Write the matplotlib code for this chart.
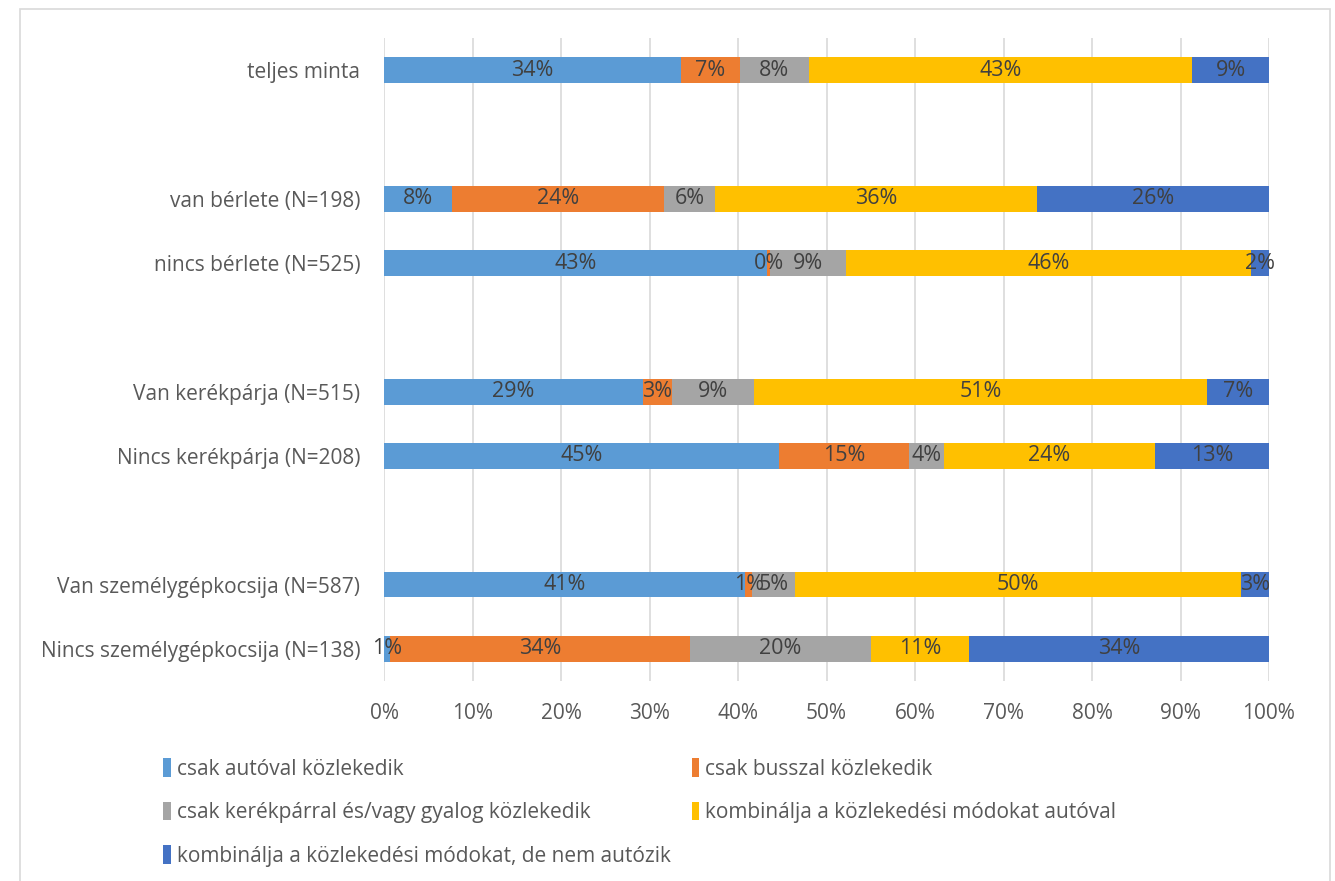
import numpy as np
import matplotlib.pyplot as plt
from matplotlib.patches import Rectangle

plt.rcParams['font.family'] = ['Open Sans', 'DejaVu Sans']

# rows from top to bottom; '' marks an empty gap row
categories = ['teljes minta', '',
              'van bérlete (N=198)', 'nincs bérlete (N=525)', '',
              'Van kerékpárja (N=515)', 'Nincs kerékpárja (N=208)', '',
              'Van személygépkocsija (N=587)', 'Nincs személygépkocsija (N=138)']

series_names = ['csak autóval közlekedik',
                'csak busszal közlekedik',
                'csak kerékpárral és/vagy gyalog közlekedik',
                'kombinálja a közlekedési módokat autóval',
                'kombinálja a közlekedési módokat, de nem autózik']

# percent values per series, in row order (None for gap rows)
auto_only = [33.6, None, 7.7, 43.3, None, 29.3, 44.6, None, 40.8, 0.7]
bus_only = [6.6, None, 23.9, 0.3, None, 3.2, 14.7, None, 0.8, 33.9]
bike_walk = [7.8, None, 5.8, 8.6, None, 9.3, 4.0, None, 4.8, 20.4]
combo_car = [43.3, None, 36.4, 45.8, None, 51.2, 23.8, None, 50.4, 11.1]
combo_nocar = [8.7, None, 26.2, 2.0, None, 7.0, 12.9, None, 3.2, 33.9]

colors = ['#5b9bd5', '#ed7d31', '#a5a5a5', '#ffc000', '#4472c4']

data = [auto_only, bus_only, bike_walk, combo_car, combo_nocar]

fig = plt.figure(figsize=(13.35, 8.81), dpi=100)
ax = fig.add_axes([384 / 1335, 1 - 681 / 881, 885 / 1335, 643 / 881])

# outer chart frame
fig.patches.append(Rectangle((20 / 1335, -0.01), 1310 / 1335, 1 - 9 / 881 + 0.01,
                             transform=fig.transFigure, fill=False,
                             edgecolor='#d9d9d9', linewidth=1.2))

y = np.arange(len(categories))
left = np.zeros(len(categories))
handles = []
for vals, name, col in zip(data, series_names, colors):
    v = np.array([0 if a is None else a for a in vals], dtype=float) / 100
    bars = ax.barh(y, v, left=left, height=0.4, color=col, label=name, zorder=3)
    handles.append(bars)
    for yi, (val, l) in enumerate(zip(v, left)):
        if vals[yi] is None:
            continue
        ax.text(l + val / 2, yi, f'{vals[yi]:.0f}%', ha='center', va='center',
                fontsize=15.5, color='#404040', zorder=4)
    left += v

ax.set_ylim(len(categories) - 0.5, -0.5)
ax.set_xlim(0, 1)
ax.set_yticks(y)
ax.set_yticklabels(categories)
ax.set_xticks(np.arange(0, 1.01, 0.1))
ax.set_xticklabels([f'{int(t)}%' for t in np.arange(0, 101, 10)])
ax.tick_params(axis='both', length=0, labelsize=15, labelcolor='#595959')
ax.tick_params(axis='y', pad=17)
ax.tick_params(axis='x', pad=16)
ax.grid(axis='x', color='#d9d9d9', linewidth=1.2, zorder=0)
for s in ax.spines.values():
    s.set_visible(False)

order = [0, 2, 4, 1, 3]
fig.legend([handles[i] for i in order], [series_names[i] for i in order],
           loc='upper left', bbox_to_anchor=(153 / 1335, 1 - 748 / 881),
           ncol=2, frameon=False, fontsize=15, labelcolor='#595959',
           handlelength=0.35, handleheight=1.0, handletextpad=0.3,
           labelspacing=1.05, columnspacing=1.0, borderpad=0)

fig.savefig('out.png', dpi=100)
